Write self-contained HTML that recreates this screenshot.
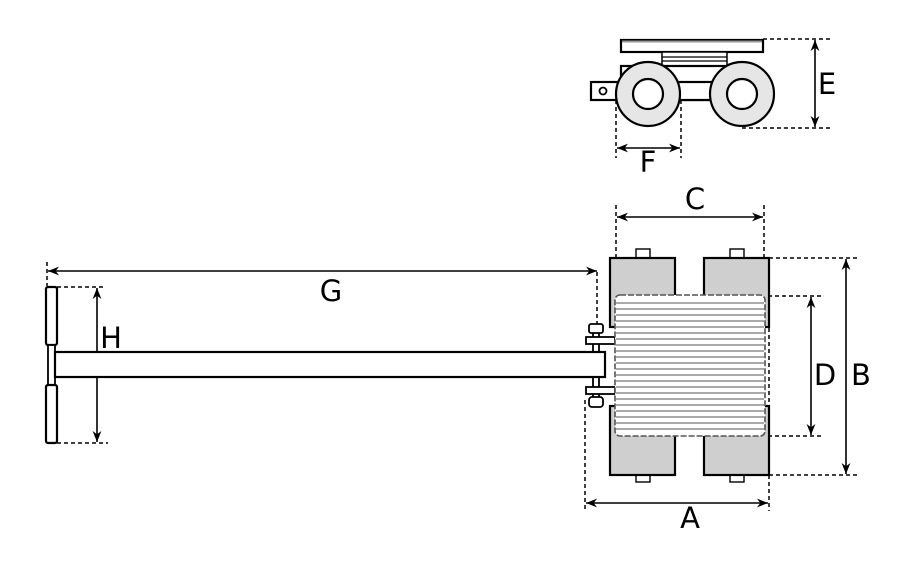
<!DOCTYPE html>
<html><head><meta charset="utf-8"><style>html,body{margin:0;padding:0;background:#fff}svg{display:block}</style></head><body>
<svg width="906" height="572" viewBox="0 0 906 572" xmlns="http://www.w3.org/2000/svg" font-family="'DejaVu Sans','Liberation Sans',sans-serif">
<defs>
<marker id="a" viewBox="0 0 10 10" refX="10" refY="5" markerWidth="11" markerHeight="11" markerUnits="userSpaceOnUse" orient="auto-start-reverse"><path d="M0,1 L10,5 L0,9 L3,5 Z" fill="#000"/></marker>
</defs>
<g fill="none" stroke="#000" stroke-width="1.5" stroke-dasharray="4,3">
<line x1="763" y1="39" x2="832" y2="39"/><line x1="742" y1="128" x2="832" y2="128"/>
<line x1="616" y1="100" x2="616" y2="158"/><line x1="681" y1="100" x2="681" y2="158"/>
<line x1="616" y1="205" x2="616" y2="300"/><line x1="764" y1="205" x2="764" y2="300"/>
<line x1="47" y1="262" x2="47" y2="286"/><line x1="597" y1="272" x2="597" y2="325"/>
<line x1="57" y1="287" x2="105" y2="287"/><line x1="57" y1="443" x2="108" y2="443"/>
<line x1="769" y1="258" x2="858" y2="258"/><line x1="769" y1="475" x2="858" y2="475"/>
<line x1="740" y1="296" x2="822" y2="296"/><line x1="740" y1="436" x2="822" y2="436"/>
<line x1="585" y1="400" x2="585" y2="511"/><line x1="769" y1="258" x2="769" y2="511"/>
</g>
<g stroke="#000" stroke-width="1.6" fill="none">
<line x1="815" y1="40" x2="815" y2="127" marker-start="url(#a)" marker-end="url(#a)"/>
<line x1="617" y1="148" x2="680" y2="148" marker-start="url(#a)" marker-end="url(#a)"/>
<line x1="617" y1="217" x2="763" y2="217" marker-start="url(#a)" marker-end="url(#a)"/>
<line x1="48" y1="271" x2="597" y2="271" marker-start="url(#a)" marker-end="url(#a)"/>
<line x1="97" y1="288" x2="97" y2="442" marker-start="url(#a)" marker-end="url(#a)"/>
<line x1="846" y1="259" x2="846" y2="474" marker-start="url(#a)" marker-end="url(#a)"/>
<line x1="811" y1="297" x2="811" y2="435" marker-start="url(#a)" marker-end="url(#a)"/>
<line x1="586" y1="503" x2="768" y2="503" marker-start="url(#a)" marker-end="url(#a)"/>
</g>
<g font-size="29" fill="#000" text-anchor="middle">
<text x="827" y="94">E</text><text x="648" y="172">F</text><text x="695" y="209">C</text>
<text x="331" y="301">G</text><text x="111" y="348">H</text><text x="861" y="385">B</text>
<text x="825" y="385">D</text><text x="690" y="528">A</text>
</g>
<g stroke="#000" stroke-width="2.2" fill="#fff">
<rect x="621" y="40" width="142" height="12"/>
<rect x="662" y="52" width="65" height="14" stroke-width="1.5"/>
<rect x="621" y="66" width="120" height="34"/>
<rect x="591" y="82" width="27" height="18"/>
<circle cx="603" cy="91" r="3.5" stroke-width="1.8"/>
<rect x="660" y="82" width="70" height="18"/>
<circle cx="648" cy="94" r="32" fill="#e6e6e6"/><circle cx="648" cy="94" r="15"/>
<circle cx="742" cy="94" r="32" fill="#e6e6e6"/><circle cx="742" cy="94" r="15"/>
</g>
<line x1="662" y1="57" x2="727" y2="57" stroke="#000" stroke-width="1.3"/><line x1="662" y1="61" x2="727" y2="61" stroke="#000" stroke-width="1.3"/>
<line x1="622" y1="41.5" x2="762" y2="41.5" stroke="#999" stroke-width="2"/>
<g stroke="#000" stroke-width="2.2">
<rect x="636" y="249" width="14" height="9" fill="#fff" stroke-width="1.4"/>
<rect x="730" y="249" width="14" height="9" fill="#fff" stroke-width="1.4"/>
<rect x="636" y="475" width="14" height="7" fill="#fff" stroke-width="1.4"/>
<rect x="730" y="475" width="14" height="7" fill="#fff" stroke-width="1.4"/>
<rect x="610" y="258" width="65" height="69" fill="#cfcfcf"/>
<rect x="704" y="258" width="65" height="69" fill="#cfcfcf"/>
<rect x="610" y="406" width="65" height="69" fill="#cfcfcf"/>
<rect x="704" y="406" width="65" height="69" fill="#cfcfcf"/>
<rect x="46" y="287" width="11" height="58" rx="2" fill="#fff"/>
<rect x="48" y="345" width="7" height="40" fill="#fff" stroke-width="1.8"/>
<rect x="46" y="385" width="11" height="58" rx="2" fill="#fff"/>
<rect x="593" y="330" width="6" height="70" fill="#fff" stroke-width="1.8"/>
<rect x="589" y="324" width="14" height="9" rx="2" fill="#fff" stroke-width="1.8"/>
<rect x="589" y="397" width="14" height="10" rx="3" fill="#fff" stroke-width="1.8"/>
<rect x="586" y="337" width="29" height="7" fill="#fff" stroke-width="1.8"/>
<rect x="586" y="387" width="29" height="7" fill="#fff" stroke-width="1.8"/>
<rect x="55" y="352" width="550" height="25" fill="#fff"/>
</g>
<rect x="615" y="295" width="150" height="141" rx="5" fill="#fff" stroke="#555" stroke-width="1.6" stroke-dasharray="6,2"/>
<g stroke="#555" stroke-width="1.1">
<line x1="616" y1="303" x2="764" y2="303"/><line x1="616" y1="309" x2="764" y2="309"/><line x1="616" y1="315" x2="764" y2="315"/><line x1="616" y1="321" x2="764" y2="321"/><line x1="616" y1="327" x2="764" y2="327"/><line x1="616" y1="333" x2="764" y2="333"/><line x1="616" y1="339" x2="764" y2="339"/><line x1="616" y1="345" x2="764" y2="345"/><line x1="616" y1="351" x2="764" y2="351"/><line x1="616" y1="357" x2="764" y2="357"/><line x1="616" y1="363" x2="764" y2="363"/><line x1="616" y1="369" x2="764" y2="369"/><line x1="616" y1="375" x2="764" y2="375"/><line x1="616" y1="381" x2="764" y2="381"/><line x1="616" y1="387" x2="764" y2="387"/><line x1="616" y1="393" x2="764" y2="393"/><line x1="616" y1="399" x2="764" y2="399"/><line x1="616" y1="405" x2="764" y2="405"/><line x1="616" y1="411" x2="764" y2="411"/><line x1="616" y1="417" x2="764" y2="417"/><line x1="616" y1="423" x2="764" y2="423"/><line x1="616" y1="429" x2="764" y2="429"/>
</g>
</svg>
</body></html>
